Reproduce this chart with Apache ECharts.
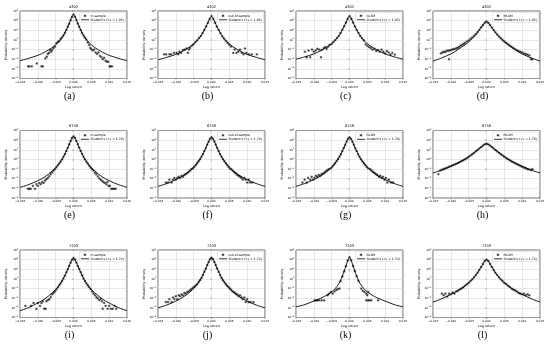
<!DOCTYPE html>
<html><head><meta charset="utf-8">
<script src="https://cdn.jsdelivr.net/npm/echarts@6/dist/echarts.min.js"></script>
<style>html,body{margin:0;padding:0;background:#fff}#c{width:550px;height:353px}</style>
</head><body><div id="c"></div>
<script>
const panelTitles = ['4302','4302','4302','4302','6758','6758','6758','6758','7203','7203','7203','7203'];
const panelLetters = ['(a)','(b)','(c)','(d)','(e)','(f)','(g)','(h)','(i)','(j)','(k)','(l)'];
const sampleNames = ['In-sample','out-of-sample','GLSM','MLSM','In-sample','out-of-sample','GLSM','MLSM','In-sample','out-of-sample','GLSM','MLSM'];
const fitNames = ["Student's t (ν = 1.95)","Student's t (ν = 1.95)","Student's t (ν = 1.95)","Student's t (ν = 1.95)",
                  "Student's t (ν = 1.70)","Student's t (ν = 1.70)","Student's t (ν = 1.70)","Student's t (ν = 1.70)",
                  "Student's t (ν = 1.74)","Student's t (ν = 1.74)","Student's t (ν = 1.74)","Student's t (ν = 1.74)"];
const xTicks = [-0.015,-0.010,-0.005,0,0.005,0.010,0.015];
const yMin = 1e-4, yMax = 1e3;

const curveX = [-0.015,-0.0125,-0.01,-0.008,-0.006,-0.005,-0.004,-0.003,-0.0025,-0.002,-0.0015,-0.001,-0.0006,-0.0003,0,
                0.0003,0.0006,0.001,0.0015,0.002,0.0025,0.003,0.004,0.005,0.006,0.008,0.01,0.0125,0.015];

const curveA = [0.0071,0.0126,0.0251,0.0562,0.158,0.316,0.708,2.24,5.01,11.2,28.2,79.4,200,355,447,355,200,79.4,28.2,11.2,5.01,2.24,0.708,0.316,0.158,0.0562,0.0251,0.0126,0.0071];
const curveB = [0.0089,0.0158,0.0316,0.0708,0.2,0.398,0.891,2.51,5.25,11.2,25.1,63.1,141,224,282,224,141,63.1,25.1,11.2,5.25,2.51,0.891,0.398,0.2,0.0708,0.0316,0.0158,0.0089];
const curveC = [0.01,0.0178,0.0355,0.0794,0.214,0.42,0.93,2.6,5.4,11.5,25.7,64,145,230,290,230,145,64,25.7,11.5,5.4,2.6,0.93,0.42,0.214,0.0794,0.0355,0.0178,0.01];
const curveD = [0.0063,0.014,0.035,0.1,0.32,0.63,1.41,3.55,6.3,11.2,20,35.5,56,74,83,74,56,35.5,20,11.2,6.3,3.55,1.41,0.63,0.32,0.1,0.035,0.014,0.0063];
const curveE = [0.00126,0.0025,0.0063,0.0158,0.063,0.141,0.398,1.41,3.16,7.94,20,56.2,126,200,251,200,126,56.2,20,7.94,3.16,1.41,0.398,0.141,0.063,0.0158,0.0063,0.0025,0.00126];
const curveF = [0.00158,0.0032,0.0079,0.02,0.07,0.16,0.43,1.5,3.2,7.6,18.6,50,110,170,200,170,110,50,18.6,7.6,3.2,1.5,0.43,0.16,0.07,0.02,0.0079,0.0032,0.00158];
const curveG = [0.0016,0.0032,0.008,0.02,0.07,0.16,0.43,1.5,3.2,7.6,18.6,50,110,170,200,170,110,50,18.6,7.6,3.2,1.5,0.43,0.16,0.07,0.02,0.008,0.0032,0.0016];
const curveH = [0.04,0.079,0.2,0.447,1.12,2.0,3.55,7.08,10,14.1,20,28.2,35.5,39.8,42.7,39.8,35.5,28.2,20,14.1,10,7.08,3.55,2.0,1.12,0.447,0.2,0.079,0.04];
const curveI = [0.0005,0.0011,0.0032,0.0089,0.035,0.079,0.22,0.89,2.0,5.0,13,35,75,115,150,115,75,35,13,5.0,2.0,0.89,0.22,0.079,0.035,0.0089,0.0032,0.0011,0.0005];
const curveJ = [0.001,0.002,0.005,0.013,0.045,0.1,0.28,1.0,2.3,5.6,14,40,90,140,160,140,90,40,14,5.6,2.3,1.0,0.28,0.1,0.045,0.013,0.005,0.002,0.001];
const curveK = [0.00126,0.0022,0.005,0.01,0.025,0.045,0.1,0.32,0.71,2.0,6.3,22.4,63,126,178,126,63,22.4,6.3,2.0,0.71,0.32,0.1,0.045,0.025,0.01,0.005,0.0022,0.00126];
const curveL = [0.004,0.0089,0.025,0.063,0.2,0.4,0.89,2.5,4.5,8.9,17.8,35.5,63,89,105,89,63,35.5,17.8,8.9,4.5,2.5,0.89,0.4,0.2,0.063,0.025,0.0089,0.004];

const ptsA = [[-0.0048,0.45],[-0.0044,0.62],[-0.004,0.8],[-0.0036,1.3],[-0.0032,1.9],[-0.0028,3.0],[-0.0024,5.5],[-0.002,11],[-0.0016,24],[-0.0012,48],[-0.0008,110],[-0.0004,240],[0,430],[0.0004,250],[0.0008,115],[0.0012,50],[0.0016,23],[0.002,10.5],[0.0024,5.2],[0.0028,2.9],[0.0032,1.8],[0.0036,1.1],[0.004,0.55],[0.0044,0.3],
[-0.0052,0.2],[-0.0056,0.14],[-0.006,0.09],[-0.0063,0.06],[-0.0066,0.09],[-0.0069,0.045],[-0.0072,0.035],[-0.0075,0.018],[-0.0079,0.012],[-0.0086,0.0018],[-0.009,0.0018],[-0.0103,0.0036],[-0.0117,0.0018],[-0.0124,0.0018],[-0.0127,0.0018],
[0.0047,0.15],[0.005,0.11],[0.0054,0.08],[0.0058,0.1],[0.0062,0.05],[0.0066,0.035],[0.007,0.05],[0.0074,0.022],[0.0078,0.016],[0.0082,0.01],[0.0086,0.014],[0.009,0.007],[0.0094,0.0055],[0.0097,0.0055],[0.0101,0.0018],[0.0104,0.0018],[0.0108,0.0018]];
const ptsB = [[-0.005,0.35],[-0.0045,0.6],[-0.004,0.9],[-0.0035,1.6],[-0.003,2.6],[-0.0025,5],[-0.002,11],[-0.0015,25],[-0.001,60],[-0.0005,150],[0,300],[0.0005,150],[0.001,62],[0.0015,24],[0.002,11],[0.0025,5],[0.003,2.4],[0.0035,1.4],[0.004,0.8],[0.0045,0.5],
[-0.0055,0.25],[-0.006,0.15],[-0.0063,0.1],[-0.0066,0.045],[-0.007,0.13],[-0.0075,0.1],[-0.008,0.09],[-0.0085,0.045],[-0.009,0.06],[-0.0093,0.032],[-0.0098,0.045],[-0.0105,0.045],[-0.0113,0.032],[-0.0118,0.032],[-0.0127,0.032],[-0.0133,0.032],
[0.005,0.3],[0.0055,0.2],[0.0061,0.045],[0.0065,0.1],[0.007,0.045],[0.0075,0.06],[0.008,0.1],[0.0085,0.045],[0.009,0.032],[0.0094,0.13],[0.0098,0.045],[0.0105,0.032],[0.0113,0.032],[0.0127,0.032]];
const ptsC = [[-0.005,0.38],[-0.0045,0.62],[-0.004,0.95],[-0.0035,1.6],[-0.003,2.7],[-0.0025,5.2],[-0.002,11.5],[-0.0015,26],[-0.001,62],[-0.0005,155],[0,290],[0.0005,150],[0.001,63],[0.0015,25],[0.002,11],[0.0025,5.3],[0.003,2.6],[0.0035,1.5],[0.004,0.9],
[-0.0125,0.06],[-0.012,0.016],[-0.0115,0.08],[-0.011,0.016],[-0.0105,0.1],[-0.01,0.06],[-0.0095,0.08],[-0.009,0.12],[-0.0085,0.1],[-0.008,0.016],[-0.0078,0.09],[-0.0072,0.14],[-0.0068,0.18],[-0.0064,0.12],[-0.006,0.2],[-0.0056,0.3],
[0.0045,0.35],[0.005,0.25],[0.0055,0.18],[0.006,0.14],[0.0065,0.1],[0.007,0.12],[0.0075,0.07],[0.008,0.09],[0.0085,0.06],[0.009,0.1],[0.0095,0.06],[0.01,0.04],[0.0105,0.07],[0.011,0.05],[0.0115,0.03],[0.012,0.045],[0.0127,0.03]];
const ptsD = [[-0.0128,0.04],[-0.0124,0.05],[-0.012,0.06],[-0.0116,0.055],[-0.0112,0.07],[-0.0108,0.08],[-0.0105,0.01],[-0.0104,0.075],[-0.01,0.09],[-0.0096,0.1],[-0.0092,0.11],[-0.0088,0.12],[-0.0084,0.14],[-0.008,0.16],[-0.0076,0.2],[-0.0072,0.26],[-0.0068,0.32],[-0.0064,0.4],[-0.006,0.5],[-0.0055,0.7],[-0.005,0.9],[-0.0045,1.3],[-0.004,1.8],[-0.0035,2.7],[-0.003,4],[-0.0025,6.5],[-0.002,11],[-0.0015,20],[-0.001,35],[-0.0005,60],[0,80],[0.0005,58],[0.001,34],[0.0015,19],[0.002,10.5],[0.0025,6],[0.003,3.6],[0.0035,2.3],[0.004,1.5],[0.0045,1.0],[0.005,0.7],[0.0055,0.5],[0.006,0.36],[0.0065,0.27],[0.007,0.2],[0.0075,0.15],[0.008,0.11],[0.0085,0.085],[0.009,0.07],[0.0095,0.06],[0.01,0.05],[0.0105,0.04],[0.011,0.035],[0.0115,0.03],[0.012,0.025],[0.0125,0.01],[0.0128,0.01]];
const ptsE = [[-0.0052,0.1],[-0.0048,0.15],[-0.0044,0.24],[-0.004,0.38],[-0.0036,0.6],[-0.0032,1.0],[-0.0028,1.9],[-0.0024,3.6],[-0.002,7.5],[-0.0016,16],[-0.0012,36],[-0.0008,80],[-0.0004,170],[0,240],[0.0004,175],[0.0008,82],[0.0012,37],[0.0016,17],[0.002,7.8],[0.0024,3.7],[0.0028,1.9],[0.0032,1.0],[0.0036,0.6],[0.004,0.37],[0.0044,0.22],[0.0048,0.14],[0.0052,0.1],
[-0.0128,0.0009],[-0.0124,0.0009],[-0.012,0.0009],[-0.0114,0.0018],[-0.0108,0.0009],[-0.0104,0.0027],[-0.01,0.0018],[-0.0096,0.0036],[-0.0092,0.0027],[-0.0088,0.0045],[-0.0084,0.0036],[-0.008,0.0063],[-0.0076,0.009],[-0.0072,0.012],[-0.0068,0.018],[-0.0064,0.03],[-0.006,0.045],[-0.0056,0.07],
[0.0056,0.07],[0.006,0.04],[0.0064,0.03],[0.0068,0.018],[0.0072,0.011],[0.0076,0.008],[0.008,0.006],[0.0084,0.0045],[0.0088,0.0036],[0.0092,0.0027],[0.0095,0.0045],[0.0098,0.0018],[0.0102,0.0018],[0.0106,0.0009],[0.011,0.0009],[0.0114,0.0009],[0.0118,0.0009]];
const ptsF = [[-0.0052,0.12],[-0.0048,0.17],[-0.0044,0.26],[-0.004,0.42],[-0.0036,0.65],[-0.0032,1.05],[-0.0028,1.9],[-0.0024,3.5],[-0.002,7.2],[-0.0016,15],[-0.0012,33],[-0.0008,70],[-0.0004,140],[0,200],[0.0004,140],[0.0008,72],[0.0012,34],[0.0016,15.5],[0.002,7.4],[0.0024,3.6],[0.0028,1.9],[0.0032,1.05],[0.0036,0.64],[0.004,0.4],[0.0044,0.25],[0.0048,0.16],[0.0052,0.11],
[-0.0128,0.004],[-0.0122,0.004],[-0.0118,0.008],[-0.0112,0.004],[-0.0108,0.008],[-0.0104,0.012],[-0.01,0.008],[-0.0096,0.012],[-0.0092,0.016],[-0.0088,0.012],[-0.0084,0.02],[-0.008,0.016],[-0.0076,0.025],[-0.0072,0.03],[-0.0068,0.04],[-0.0064,0.05],[-0.006,0.07],[-0.0056,0.1],
[0.0056,0.09],[0.006,0.065],[0.0064,0.045],[0.0068,0.035],[0.0072,0.025],[0.0076,0.02],[0.008,0.016],[0.0084,0.012],[0.0088,0.008],[0.0092,0.012],[0.0096,0.008],[0.01,0.004],[0.0104,0.008],[0.0108,0.004],[0.0114,0.004]];
const ptsG = [[-0.0052,0.12],[-0.0048,0.18],[-0.0044,0.27],[-0.004,0.41],[-0.0036,0.66],[-0.0032,1.1],[-0.0028,1.95],[-0.0024,3.4],[-0.002,7.3],[-0.0016,15.5],[-0.0012,32],[-0.0008,72],[-0.0004,142],[0,195],[0.0004,138],[0.0008,70],[0.0012,33],[0.0016,15],[0.002,7.5],[0.0024,3.5],[0.0028,1.85],[0.0032,1.0],[0.0036,0.62],[0.004,0.41],[0.0044,0.26],[0.0048,0.17],[0.0052,0.12],
[-0.0132,0.004],[-0.0126,0.008],[-0.012,0.004],[-0.0116,0.012],[-0.011,0.008],[-0.0106,0.016],[-0.0102,0.008],[-0.0098,0.012],[-0.0094,0.02],[-0.009,0.016],[-0.0086,0.025],[-0.0082,0.02],[-0.0078,0.03],[-0.0074,0.035],[-0.007,0.045],[-0.0066,0.06],[-0.0062,0.08],[-0.0058,0.1],
[0.0058,0.1],[0.0062,0.07],[0.0066,0.05],[0.007,0.04],[0.0074,0.03],[0.0078,0.025],[0.0082,0.016],[0.0086,0.02],[0.009,0.012],[0.0094,0.016],[0.0098,0.008],[0.0102,0.012],[0.0106,0.004],[0.011,0.008],[0.0116,0.004],[0.0122,0.004]];
const ptsH = [[-0.0135,0.03],[-0.013,0.07],[-0.0125,0.09],[-0.012,0.1],[-0.0115,0.12],[-0.011,0.14],[-0.0105,0.17],[-0.01,0.2],[-0.0095,0.24],[-0.009,0.29],[-0.0085,0.35],[-0.008,0.42],[-0.0075,0.52],[-0.007,0.65],[-0.0065,0.8],[-0.006,1.0],[-0.0055,1.3],[-0.005,1.8],[-0.0045,2.5],[-0.004,3.4],[-0.0035,4.8],[-0.003,6.8],[-0.0025,9.5],[-0.002,13.5],[-0.0015,19],[-0.001,27],[-0.0005,36],[0,42],[0.0005,36],[0.001,27],[0.0015,19],[0.002,13.5],[0.0025,9.5],[0.003,6.8],[0.0035,4.8],[0.004,3.4],[0.0045,2.6],[0.005,1.9],[0.0055,1.4],[0.006,1.05],[0.0065,0.8],[0.007,0.62],[0.0075,0.5],[0.008,0.4],[0.0085,0.32],[0.009,0.26],[0.0095,0.21],[0.01,0.17],[0.0105,0.14],[0.011,0.12],[0.0115,0.1],[0.012,0.09],[0.0125,0.08],[0.0129,0.1]];
const ptsI = [[-0.0044,0.13],[-0.004,0.22],[-0.0036,0.35],[-0.0032,0.6],[-0.0028,1.1],[-0.0024,2.2],[-0.002,4.8],[-0.0016,10],[-0.0012,22],[-0.0008,50],[-0.0004,100],[0,145],[0.0004,100],[0.0008,50],[0.0012,22],[0.0016,10.5],[0.002,5],[0.0024,2.3],[0.0028,1.1],[0.0032,0.62],[0.0036,0.36],[0.004,0.22],[0.0044,0.14],
[-0.0135,0.0016],[-0.0119,0.0016],[-0.0112,0.0032],[-0.0104,0.0008],[-0.01,0.0032],[-0.0094,0.0016],[-0.009,0.0032],[-0.0086,0.0048],[-0.0082,0.0008],[-0.0078,0.0008],[-0.0076,0.0048],[-0.0072,0.0064],[-0.0068,0.008],[-0.0064,0.013],[-0.006,0.025],[-0.0056,0.035],[-0.0052,0.05],[-0.0048,0.08],
[0.0048,0.09],[0.0052,0.05],[0.0056,0.03],[0.006,0.02],[0.0064,0.013],[0.0068,0.01],[0.0072,0.0064],[0.0076,0.008],[0.008,0.0048],[0.0082,0.0008],[0.0086,0.0032],[0.009,0.0016],[0.0096,0.0008],[0.01,0.0016],[0.0105,0.0008],[0.011,0.0008],[0.0115,0.0016],[0.012,0.0008]];
const ptsJ = [[-0.0048,0.16],[-0.0044,0.22],[-0.004,0.3],[-0.0036,0.5],[-0.0032,0.75],[-0.0028,1.3],[-0.0024,2.5],[-0.002,5.5],[-0.0016,12],[-0.0012,27],[-0.0008,55],[-0.0004,110],[0,160],[0.0004,112],[0.0008,56],[0.0012,27],[0.0016,12.5],[0.002,5.6],[0.0024,2.6],[0.0028,1.3],[0.0032,0.75],[0.0036,0.48],[0.004,0.3],[0.0044,0.2],[0.0048,0.14],
[-0.0128,0.004],[-0.0122,0.004],[-0.0118,0.008],[-0.0112,0.004],[-0.0108,0.012],[-0.0104,0.008],[-0.01,0.016],[-0.0096,0.008],[-0.0092,0.02],[-0.0088,0.016],[-0.0084,0.025],[-0.008,0.02],[-0.0076,0.035],[-0.0072,0.03],[-0.0068,0.045],[-0.0064,0.05],[-0.006,0.07],[-0.0056,0.09],[-0.0052,0.12],
[0.0052,0.1],[0.0056,0.07],[0.006,0.05],[0.0064,0.04],[0.0068,0.03],[0.0072,0.025],[0.0076,0.016],[0.008,0.02],[0.0084,0.012],[0.0088,0.008],[0.0092,0.012],[0.0096,0.004],[0.01,0.008],[0.0104,0.004],[0.011,0.004],[0.0118,0.004]];
const ptsK = [[-0.0025,0.6],[-0.002,1.8],[-0.0015,6],[-0.001,21],[-0.0005,80],[0,175],[0.0005,85],[0.001,22],[0.0015,6.5],[0.002,1.9],[0.0025,0.65],
[-0.0098,0.006],[-0.0093,0.006],[-0.009,0.006],[-0.0085,0.006],[-0.0078,0.006],[-0.0071,0.006],[-0.0061,0.02],[-0.0057,0.03],[-0.0052,0.044],[-0.0047,0.03],[-0.0042,0.05],[-0.0037,0.07],[-0.0033,0.09],[-0.0028,0.1],
[0.0033,0.1],[0.0037,0.06],[0.0042,0.044],[0.0047,0.03],[0.005,0.02],[0.0053,0.044],[0.0047,0.006],[0.0052,0.006],[0.0056,0.006],[0.0061,0.006],[0.008,0.006]];
const ptsL = [[-0.0125,0.03],[-0.012,0.02],[-0.0115,0.03],[-0.011,0.015],[-0.0105,0.03],[-0.01,0.025],[-0.0095,0.04],[-0.009,0.03],[-0.0085,0.05],[-0.008,0.06],[-0.0075,0.08],[-0.007,0.1],[-0.0065,0.13],[-0.006,0.2],[-0.0055,0.28],[-0.005,0.4],[-0.0045,0.6],[-0.004,0.9],[-0.0035,1.5],[-0.003,2.5],[-0.0025,4.5],[-0.002,8.5],[-0.0015,17],[-0.001,34],[-0.0005,70],[0,100],[0.0005,72],[0.001,35],[0.0015,17],[0.002,8.5],[0.0025,4.4],[0.003,2.5],[0.0035,1.5],[0.004,0.9],[0.0045,0.6],[0.005,0.4],[0.0055,0.3],[0.006,0.2],[0.0065,0.15],[0.007,0.1],[0.0075,0.08],[0.008,0.065],[0.0085,0.05],[0.009,0.035],[0.0095,0.03],[0.01,0.025],[0.0105,0.03],[0.011,0.02],[0.0115,0.025],[0.012,0.02]];

const curves = [curveA,curveB,curveC,curveD,curveE,curveF,curveG,curveH,curveI,curveJ,curveK,curveL];
const points = [ptsA,ptsB,ptsC,ptsD,ptsE,ptsF,ptsG,ptsH,ptsI,ptsJ,ptsK,ptsL];

const colLeft = [20, 158, 296, 433];
const rowTop = [11, 130.5, 250];
const W = 107, H = 67.5;
const FONT = 'DejaVu Sans';
const LEG_FS = 3.1;
const starPath = 'path://M5 0L5 10M0 5L10 5M1.5 1.5L8.5 8.5M8.5 1.5L1.5 8.5';

const mctx = document.createElement('canvas').getContext('2d');
mctx.font = (LEG_FS * 10) + 'px "' + FONT + '"';
const textW = s => mctx.measureText(s).width / 10;

function starMarker(cx, cy, s) {
  const h = s / 2, d = h * 0.7;
  const st = {stroke: '#000', lineWidth: 0.55};
  return [
    {type: 'line', shape: {x1: cx - h, y1: cy, x2: cx + h, y2: cy}, style: st, z: 11},
    {type: 'line', shape: {x1: cx, y1: cy - h, x2: cx, y2: cy + h}, style: st, z: 11},
    {type: 'line', shape: {x1: cx - d, y1: cy - d, x2: cx + d, y2: cy + d}, style: st, z: 11},
    {type: 'line', shape: {x1: cx - d, y1: cy + d, x2: cx + d, y2: cy - d}, style: st, z: 11}
  ];
}

const grid = [], xAxis = [], yAxis = [], series = [], graphic = [];
for (let i = 0; i < 12; i++) {
  const r = Math.floor(i / 4), c = i % 4;
  const L = colLeft[c], T = rowTop[r];
  grid.push({left: L, top: T, width: W, height: H, show: true, borderColor: '#000', borderWidth: 0.6, backgroundColor: 'transparent'});
  xAxis.push({gridIndex: i, type: 'value', min: xTicks[0], max: xTicks[xTicks.length-1], interval: 0.005,
    name: 'Log return', nameLocation: 'middle', nameGap: 7, nameTextStyle: {fontSize: 3.3, fontFamily: FONT, color: '#000'},
    axisLine: {show: false}, axisTick: {show: true, length: 1.2, lineStyle: {width: 0.4, color: '#000'}},
    axisLabel: {fontSize: 2.9, fontFamily: FONT, color: '#000', margin: 1.8,
      formatter: v => Math.abs(v) < 1e-9 ? '0.000' : (v < 0 ? '−' : '') + Math.abs(v).toFixed(3)},
    splitLine: {show: true, lineStyle: {color: '#d0d0d0', width: 0.5}}});
  yAxis.push({gridIndex: i, type: 'log', logBase: 10, min: yMin, max: yMax,
    name: 'Probability density', nameLocation: 'middle', nameGap: 10, nameTextStyle: {fontSize: 3.3, fontFamily: FONT, color: '#000'},
    axisLine: {show: false}, axisTick: {show: true, length: 1.2, lineStyle: {width: 0.4, color: '#000'}},
    axisLabel: {margin: 1.8, formatter: v => { const e = Math.round(Math.log10(v)); return '{b|10}{s|' + (e < 0 ? '−' + (-e) : e) + '}'; },
      rich: {b: {fontSize: 2.9, fontFamily: FONT, color: '#000'}, s: {fontSize: 2.1, fontFamily: FONT, color: '#000', verticalAlign: 'top', padding: [0, 0, 2, 0]}}},
    splitLine: {show: true, lineStyle: {color: '#d0d0d0', width: 0.5}}});
  series.push({type: 'scatter', name: sampleNames[i], xAxisIndex: i, yAxisIndex: i, data: points[i], symbol: starPath, symbolSize: 2.6,
    itemStyle: {color: 'transparent', borderColor: '#000', borderWidth: 0.55}, z: 3});
  series.push({type: 'line', name: fitNames[i], xAxisIndex: i, yAxisIndex: i, data: curveX.map((x, k) => [x, curves[i][k]]),
    showSymbol: false, symbol: 'none', smooth: 0.3, lineStyle: {color: '#000', width: 0.9}, itemStyle: {color: '#000'}, z: 2});

  // legend box (matplotlib style) drawn as graphics
  const tw = Math.max(textW(sampleNames[i]), textW(fitNames[i]));
  const bw = 12.5 + tw, bh = 10;
  const bx = L + W - 1.5 - bw, by = T + 1.5;
  graphic.push({type: 'rect', shape: {x: bx, y: by, width: bw, height: bh, r: 0.8},
    style: {fill: 'rgba(255,255,255,0.85)', stroke: '#c8c8c8', lineWidth: 0.4}, z: 10});
  starMarker(bx + 5.5, by + 3.3, 2.6).forEach(g => graphic.push(g));
  graphic.push({type: 'line', shape: {x1: bx + 1.5, y1: by + 7.3, x2: bx + 9.5, y2: by + 7.3},
    style: {stroke: '#000', lineWidth: 0.8}, z: 11});
  graphic.push({type: 'text', x: bx + 11, y: by + 3.3, style: {text: sampleNames[i], fontSize: LEG_FS, fontFamily: FONT, fill: '#000', verticalAlign: 'middle', textVerticalAlign: 'middle'}, z: 11});
  graphic.push({type: 'text', x: bx + 11, y: by + 7.3, style: {text: fitNames[i], fontSize: LEG_FS, fontFamily: FONT, fill: '#000', verticalAlign: 'middle', textVerticalAlign: 'middle'}, z: 11});

  graphic.push({type: 'text', x: L + W / 2, y: T - 4.3, style: {text: panelTitles[i], fontSize: 3.6, fontFamily: FONT, fill: '#000', align: 'center', verticalAlign: 'middle', textAlign: 'center', textVerticalAlign: 'middle'}});
  graphic.push({type: 'text', x: L + W / 2 - 4, y: T + 85, style: {text: panelLetters[i], fontSize: 10, fontFamily: 'Liberation Serif', fill: '#000', align: 'center', verticalAlign: 'middle', textAlign: 'center', textVerticalAlign: 'middle'}});
}

const chart = echarts.init(document.getElementById('c'), null, {renderer: 'canvas'});
chart.setOption({animation: false, backgroundColor: '#fff', grid, xAxis, yAxis, series, graphic});
</script></body></html>
